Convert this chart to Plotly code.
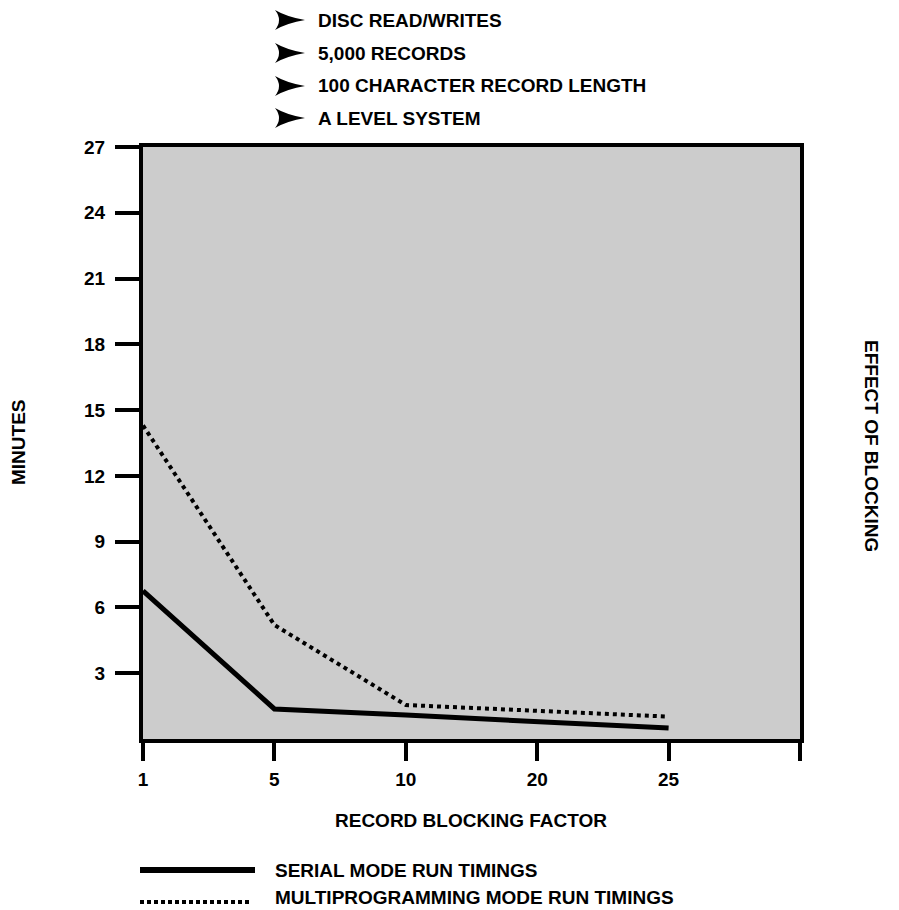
import plotly.graph_objects as go

# ---- data ----
blocking_factors = ["1", "5", "10", "20", "25"]
serial_minutes = [6.76, 1.37, 1.09, 0.8, 0.5]
multi_minutes = [14.3, 5.2, 1.55, 1.3, 1.02]
y_ticks = [3, 6, 9, 12, 15, 18, 21, 24, 27]
header_lines = ["DISC READ/WRITES", "5,000 RECORDS", "100 CHARACTER RECORD LENGTH", "A LEVEL SYSTEM"]
legend_labels = ["SERIAL MODE RUN TIMINGS", "MULTIPROGRAMMING MODE RUN TIMINGS"]

# page (screenshot) geometry; the html body adds an 8px margin
PAGE_W, PAGE_H, OFF = 899, 910, 8
W, H = PAGE_W - OFF, PAGE_H - OFF
# plot-area edges in page pixels
L, R, T, B = 143, 800, 147, 739
FONT = dict(family="Liberation Sans, Arial, sans-serif", size=19, color="black", weight="bold")

def px(x):
    return (x - L) / (R - L)

def py(y):
    return (B - y) / (B - T)

xpos = list(range(len(blocking_factors)))

fig = go.Figure()
fig.add_trace(go.Scatter(x=xpos, y=serial_minutes, mode="lines",
                         line=dict(color="black", width=5), showlegend=False))
fig.add_trace(go.Scatter(x=xpos, y=multi_minutes, mode="lines",
                         line=dict(color="black", width=4, dash="4px,4px"), showlegend=False))

fig.update_layout(
    width=W, height=H,
    margin=dict(l=L - OFF, r=PAGE_W - R, t=T - OFF, b=PAGE_H - B),
    paper_bgcolor="white", plot_bgcolor="#cccccc",
    font=FONT, showlegend=False,
)
fig.update_xaxes(range=[0, 5], tickvals=xpos + [5], ticktext=blocking_factors + [""],
                 ticks="outside", ticklen=18, tickwidth=4, tickcolor="black",
                 showline=True, linewidth=4, linecolor="black", mirror=True,
                 showgrid=False, zeroline=False, tickfont=FONT, ticklabelstandoff=2)
fig.update_yaxes(range=[0, 27], tickvals=y_ticks, ticktext=[str(v) for v in y_ticks],
                 ticks="outside", ticklen=24, tickwidth=4, tickcolor="black",
                 showline=True, linewidth=4, linecolor="black", mirror=True,
                 showgrid=False, zeroline=False, tickfont=FONT, ticklabelstandoff=6)

ann = []
shapes = []
header_y = [20, 53, 86, 118]
arrow_path = "M 0,10 Q 12,3 30,0 Q 12,-3 0,-10 Q 8,0 0,10 Z"
for txt, yy in zip(header_lines, header_y):
    shapes.append(dict(type="path", xref="paper", yref="paper", xsizemode="pixel", ysizemode="pixel",
                       xanchor=px(275), yanchor=py(yy),
                       path=arrow_path, fillcolor="black", line=dict(width=0)))
    ann.append(dict(text=txt, x=px(316), y=py(yy), xref="paper", yref="paper",
                    xanchor="left", yanchor="middle", showarrow=False, font=FONT))

ann.append(dict(text="RECORD BLOCKING FACTOR", x=px(471), y=py(820), xref="paper", yref="paper",
                xanchor="center", yanchor="middle", showarrow=False, font=FONT))
ann.append(dict(text="MINUTES", x=px(18), y=py(442), xref="paper", yref="paper", textangle=-90,
                xanchor="center", yanchor="middle", showarrow=False, font=FONT))
ann.append(dict(text="EFFECT OF BLOCKING", x=px(872), y=py(446), xref="paper", yref="paper", textangle=90,
                xanchor="center", yanchor="middle", showarrow=False, font=FONT))

# legend rows (drawn manually)
shapes.append(dict(type="line", xref="paper", yref="paper", x0=px(140), x1=px(255), y0=py(870), y1=py(870),
                   line=dict(color="black", width=6)))
ann.append(dict(text=legend_labels[0], x=px(273), y=py(870), xref="paper", yref="paper",
                xanchor="left", yanchor="middle", showarrow=False, font=FONT))
shapes.append(dict(type="line", xref="paper", yref="paper", x0=px(140), x1=px(251), y0=py(902), y1=py(902),
                   line=dict(color="black", width=4, dash="4px,3px")))
ann.append(dict(text=legend_labels[1], x=px(273), y=py(910), xref="paper", yref="paper",
                xanchor="left", yanchor="bottom", showarrow=False, font=FONT))

fig.update_layout(annotations=ann, shapes=shapes)
fig.write_html("out.html")
